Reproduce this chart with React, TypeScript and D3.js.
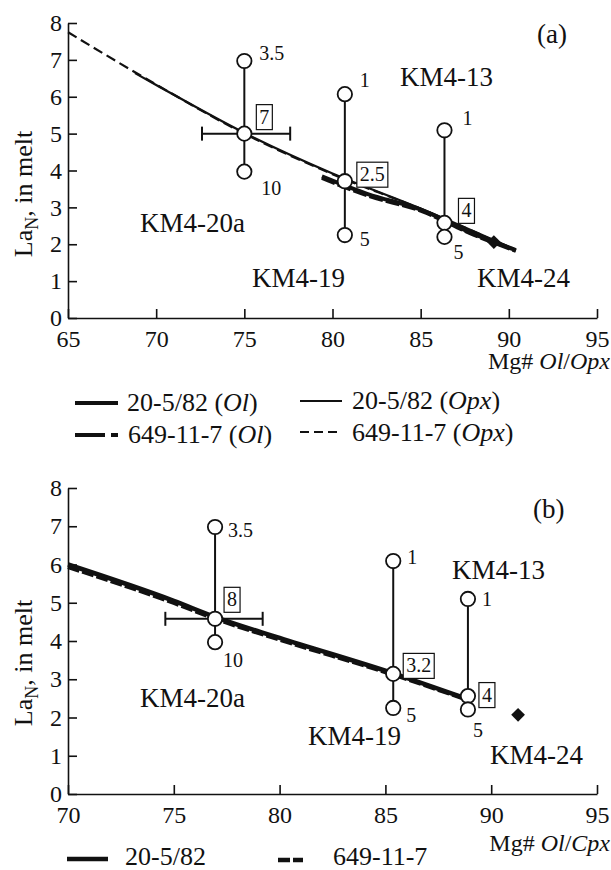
import React, { useEffect, useRef } from 'react';
import * as d3 from 'd3';

type Pt = [number, number];

// ---- panel (a): Mg# Ol/Opx ----
const mgA = [75.0, 80.7, 86.35];
const laTopA = [6.97, 6.07, 5.09];
const laMidA = [5.0, 3.71, 2.58];
const laBotA = [3.97, 2.25, 2.2];
const fTopA = ['3.5', '1', '1'];
const fMidA = ['7', '2.5', '4'];
const fBotA = ['10', '5', '5'];
const errXA = [72.6, 77.6];
const km24A: Pt = [89.15, 2.06];

const ol205A: Pt[] = [[79.4, 3.84], [82, 3.36], [85, 2.94], [88, 2.28], [90.4, 1.84]];
const ol649A: Pt[] = [[79.4, 3.8], [82, 3.32], [85, 2.91], [88, 2.26], [90.4, 1.82]];
const opx205A: Pt[] = [[68.8, 6.64], [70, 6.32], [75, 5.02], [80, 3.92], [85, 2.97], [90.3, 1.87]];
const opx649A: Pt[] = [[65, 7.75], [70, 6.33], [75, 5.0], [80, 3.9], [85, 2.96], [90.3, 1.86]];

// ---- panel (b): Mg# Ol/Cpx ----
const mgB = [76.95, 85.37, 88.9];
const laTopB = [6.98, 6.09, 5.1];
const laMidB = [4.58, 3.14, 2.56];
const laBotB = [3.97, 2.25, 2.21];
const fTopB = ['3.5', '1', '1'];
const fMidB = ['8', '3.2', '4'];
const fBotB = ['10', '5', '5'];
const errXB = [74.6, 79.2];
const km24B: Pt = [91.27, 2.07];

const line205B: Pt[] = [[70, 6.0], [75, 5.05], [77, 4.62], [80, 4.08], [85.4, 3.15], [88.7, 2.52]];
const line649B: Pt[] = [[70, 5.94], [75, 5.0], [77, 4.58], [80, 4.04], [85.4, 3.12], [88.7, 2.5]];

const yTicks = [0, 1, 2, 3, 4, 5, 6, 7, 8];
const xTicksA = [65, 70, 75, 80, 85, 90, 95];
const xTicksB = [70, 75, 80, 85, 90, 95];

const FONT = '"Liberation Serif", "Times New Roman", serif';
const INK = '#111';

type Panel = {
  xDomain: [number, number];
  xTicks: number[];
  top: number;
  bottom: number;
  mg: number[];
  laTop: number[];
  laMid: number[];
  laBot: number[];
  fTop: string[];
  fMid: string[];
  fBot: string[];
  errX: number[];
  km24: Pt;
  lines: { pts: Pt[]; width: number; dash?: string }[];
  // label offsets in px (layout only)
  topOff: Pt[];
  botOff: Pt[];
  boxOff: Pt[];
  names: { text: string; x: number; y: number }[];
  tag: { text: string; x: number; y: number };
  xTitle: string;
  xTitleY: number;
  yTitleY: number;
};

const panels: Panel[] = [
  {
    xDomain: [65, 95], xTicks: xTicksA, top: 23, bottom: 318,
    mg: mgA, laTop: laTopA, laMid: laMidA, laBot: laBotA,
    fTop: fTopA, fMid: fMidA, fBot: fBotA, errX: errXA, km24: km24A,
    lines: [
      { pts: opx649A, width: 2.2, dash: '10,5' },
      { pts: opx205A, width: 2.2 },
      { pts: ol649A, width: 4, dash: '14,3' },
      { pts: ol205A, width: 4 },
    ],
    topOff: [[15, -1], [15, -7], [18, -5]],
    botOff: [[17, 23], [15, 11], [9, 22]],
    boxOff: [[12, -29], [12, -19], [14, -24.5]],
    names: [
      { text: 'KM4-13', x: 83.83, y: 6.29 },
      { text: 'KM4-20a', x: 69.08, y: 2.33 },
      { text: 'KM4-19', x: 75.43, y: 0.84 },
      { text: 'KM4-24', x: 88.2, y: 0.84 },
    ],
    tag: { text: '(a)', x: 91.6, y: 7.46 },
    xTitle: 'Opx', xTitleY: 369, yTitleY: 194,
  },
  {
    xDomain: [70, 95], xTicks: xTicksB, top: 488, bottom: 794,
    mg: mgB, laTop: laTopB, laMid: laMidB, laBot: laBotB,
    fTop: fTopB, fMid: fMidB, fBot: fBotB, errX: errXB, km24: km24B,
    lines: [
      { pts: line649B, width: 4.5, dash: '12,3' },
      { pts: line205B, width: 4.5 },
    ],
    topOff: [[13, 10], [14, 3], [14, 7]],
    botOff: [[8, 25], [13, 14], [5, 28]],
    boxOff: [[9, -31.5], [10, -20.5], [11, -13.5]],
    names: [
      { text: 'KM4-20a', x: 73.4, y: 2.27 },
      { text: 'KM4-19', x: 81.34, y: 1.28 },
      { text: 'KM4-13', x: 88.15, y: 5.62 },
      { text: 'KM4-24', x: 89.94, y: 0.78 },
    ],
    tag: { text: '(b)', x: 91.98, y: 7.22 },
    xTitle: 'Cpx', xTitleY: 851, yTitleY: 663,
  },
];

const App: React.FC = () => {
  const svgRef = useRef<SVGSVGElement | null>(null);

  useEffect(() => {
    if (!svgRef.current) return;
    const svg = d3.select(svgRef.current);
    svg.selectAll('*').remove();

    const left = 68;
    const right = 597;

    panels.forEach(p => {
      const x = d3.scaleLinear().domain(p.xDomain).range([left, right]);
      const y = d3.scaleLinear().domain([0, 8]).range([p.bottom, p.top]);
      const g = svg.append('g');

      // axes, ticks pointing inward
      const ax = g.append('g')
        .attr('transform', `translate(0,${p.bottom})`)
        .call(d3.axisBottom(x).tickValues(p.xTicks).tickSizeInner(-9).tickSizeOuter(0).tickPadding(12).tickFormat(d3.format('d')));
      const ay = g.append('g')
        .attr('transform', `translate(${left},0)`)
        .call(d3.axisLeft(y).tickValues(yTicks).tickSizeInner(-9).tickSizeOuter(0).tickPadding(6).tickFormat(d3.format('d')));
      [ax, ay].forEach(a => {
        a.attr('font-family', FONT).attr('font-size', 24);
        a.selectAll('path, line').attr('stroke', INK).attr('stroke-width', 1.6);
        a.selectAll('text').attr('fill', INK);
      });

      // model lines
      const line = d3.line<Pt>().x(d => x(d[0])).y(d => y(d[1])).curve(d3.curveMonotoneX);
      p.lines.forEach(l => {
        g.append('path')
          .attr('d', line(l.pts))
          .attr('fill', 'none')
          .attr('stroke', INK)
          .attr('stroke-width', l.width)
          .attr('stroke-dasharray', l.dash ?? null);
      });

      // horizontal error bar on KM4-20a
      const ey = y(p.laMid[0]);
      g.append('line')
        .attr('x1', x(p.errX[0])).attr('x2', x(p.errX[1]))
        .attr('y1', ey).attr('y2', ey)
        .attr('stroke', INK).attr('stroke-width', 2);
      p.errX.forEach(v => {
        g.append('line')
          .attr('x1', x(v)).attr('x2', x(v))
          .attr('y1', ey - 7).attr('y2', ey + 7)
          .attr('stroke', INK).attr('stroke-width', 2);
      });

      // vertical ranges
      p.mg.forEach((m, i) => {
        g.append('line')
          .attr('x1', x(m)).attr('x2', x(m))
          .attr('y1', y(p.laTop[i])).attr('y2', y(p.laBot[i]))
          .attr('stroke', INK).attr('stroke-width', 2);
      });

      // circles
      p.mg.forEach((m, i) => {
        [p.laTop[i], p.laMid[i], p.laBot[i]].forEach(v => {
          g.append('circle')
            .attr('cx', x(m)).attr('cy', y(v)).attr('r', 7.2)
            .attr('fill', '#fff').attr('stroke', INK).attr('stroke-width', 1.8);
        });
      });

      // KM4-24 diamond
      g.append('path')
        .attr('d', d3.symbol().type(d3.symbolSquare).size(95)())
        .attr('transform', `translate(${x(p.km24[0])},${y(p.km24[1])}) rotate(45)`)
        .attr('fill', INK);

      // degree-of-melting labels
      p.mg.forEach((m, i) => {
        g.append('text')
          .attr('x', x(m) + p.topOff[i][0]).attr('y', y(p.laTop[i]) + p.topOff[i][1])
          .attr('font-family', FONT).attr('font-size', 20).attr('fill', INK)
          .text(p.fTop[i]);
        g.append('text')
          .attr('x', x(m) + p.botOff[i][0]).attr('y', y(p.laBot[i]) + p.botOff[i][1])
          .attr('font-family', FONT).attr('font-size', 20).attr('fill', INK)
          .text(p.fBot[i]);
        const bx = x(m) + p.boxOff[i][0];
        const by = y(p.laMid[i]) + p.boxOff[i][1];
        const box = g.append('rect')
          .attr('x', bx).attr('y', by).attr('height', 25)
          .attr('fill', '#fff').attr('stroke', INK).attr('stroke-width', 1.2);
        const t = g.append('text')
          .attr('x', bx + 3).attr('y', by + 19)
          .attr('font-family', FONT).attr('font-size', 20).attr('fill', INK)
          .text(p.fMid[i]);
        const w = (t.node() as SVGTextElement).getComputedTextLength();
        box.attr('width', w + 6);
      });

      // sample names and panel tag
      p.names.forEach(n => {
        g.append('text')
          .attr('x', x(n.x)).attr('y', y(n.y))
          .attr('font-family', FONT).attr('font-size', 27).attr('fill', INK)
          .text(n.text);
      });
      g.append('text')
        .attr('x', x(p.tag.x)).attr('y', y(p.tag.y))
        .attr('font-family', FONT).attr('font-size', 27).attr('fill', INK)
        .text(p.tag.text);

      // x title
      const xt = g.append('text')
        .attr('x', 610).attr('y', p.xTitleY)
        .attr('text-anchor', 'end')
        .attr('font-family', FONT).attr('font-size', 24).attr('fill', INK);
      xt.append('tspan').text('Mg# ');
      xt.append('tspan').attr('font-style', 'italic').text('Ol');
      xt.append('tspan').text('/');
      xt.append('tspan').attr('font-style', 'italic').text(p.xTitle);

      // y title
      const yt = g.append('text')
        .attr('transform', `translate(32,${p.yTitleY}) rotate(-90)`)
        .attr('text-anchor', 'middle')
        .attr('font-family', FONT).attr('font-size', 26).attr('fill', INK);
      yt.append('tspan').text('La');
      yt.append('tspan').attr('font-size', 18).attr('dy', 6).text('N');
      yt.append('tspan').attr('dy', -6).text(', in melt');
    });

    // ---- legends ----
    const legendText = (xp: number, yp: number, label: string, mineral?: string) => {
      const t = svg.append('text')
        .attr('x', xp).attr('y', yp)
        .attr('font-family', FONT).attr('font-size', 26).attr('fill', INK);
      t.append('tspan').text(label);
      if (mineral) {
        t.append('tspan').text(' (');
        t.append('tspan').attr('font-style', 'italic').text(mineral);
        t.append('tspan').text(')');
      }
    };
    const legendLine = (x1: number, x2: number, yp: number, w: number, dash?: string) => {
      svg.append('line')
        .attr('x1', x1).attr('x2', x2).attr('y1', yp).attr('y2', yp)
        .attr('stroke', INK).attr('stroke-width', w)
        .attr('stroke-dasharray', dash ?? null);
    };

    // panel (a) legend
    legendLine(75, 118, 403, 4);
    legendText(127, 411, '20-5/82', 'Ol');
    legendLine(300, 342, 401, 1.8);
    legendText(352, 409, '20-5/82', 'Opx');
    legendLine(75, 118, 435, 4, '30,6');
    legendText(128, 443, '649-11-7', 'Ol');
    legendLine(300, 342, 432, 1.8, '9,5');
    legendText(352, 441, '649-11-7', 'Opx');

    // panel (b) legend
    legendLine(67, 108, 859, 4.5);
    legendText(125, 865, '20-5/82');
    legendLine(278, 303, 860, 4.5, '12,3');
    legendText(333, 865, '649-11-7');
  }, []);

  return (
    <div style={{ position: 'absolute', left: 0, top: 0 }}>
      <svg ref={svgRef} width={611} height={870} style={{ display: 'block', background: '#fff' }} />
    </div>
  );
};

export default App;
